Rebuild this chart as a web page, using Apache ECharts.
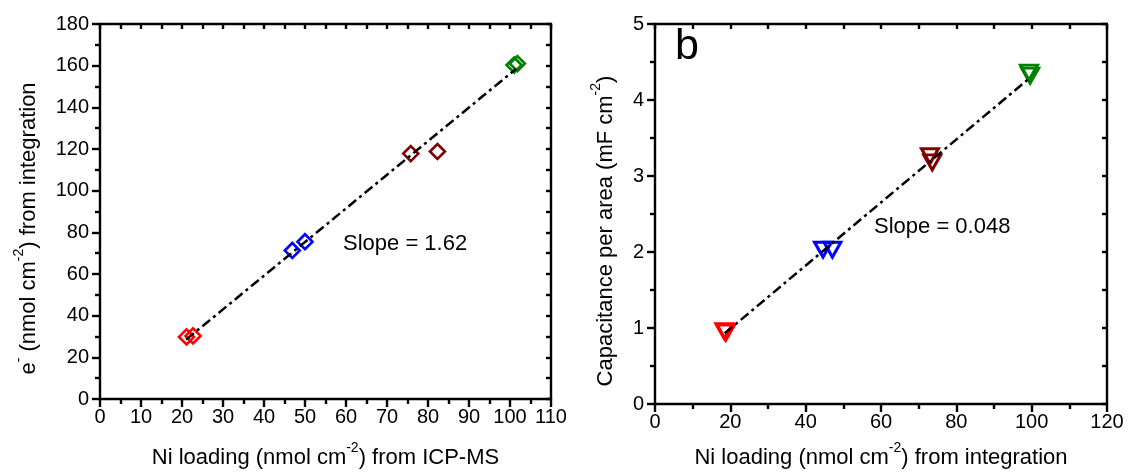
<!DOCTYPE html>
<html>
<head>
<meta charset="utf-8">
<script src="https://cdn.jsdelivr.net/npm/echarts@6/dist/echarts.min.js"></script>
<style>
html,body{margin:0;padding:0;background:#fff;}
#c{width:1128px;height:474px;}
</style>
</head>
<body>
<div id="c"></div>
<script>
// ---- Data ----
const groupColors = ['#ff0000', '#ff0000', '#0000ff', '#0000ff', '#800000', '#800000', '#008000', '#008000'];

// Panel a: e- from integration vs Ni loading from ICP-MS
const leftX = [21.1, 22.7, 46.9, 50.0, 75.8, 82.3, 101.0, 101.8];
const leftY = [29.8, 30.3, 71.3, 75.5, 117.8, 118.8, 160.3, 161.0];
const fitLeftX = [21.0, 101.5];
const fitLeftY = [28.5, 158.5];

// Panel b: capacitance per area vs Ni loading from integration
const rightX = [18.4, 18.8, 44.6, 47.1, 73.0, 73.6, 99.3, 99.6];
const rightY = [0.96, 0.94, 2.03, 2.03, 3.26, 3.18, 4.36, 4.32];
const fitRightX = [18.5, 99.5];
const fitRightY = [0.93, 4.29];

const leftXTicks = {min: 0, max: 110, interval: 10};
const leftYTicks = {min: 0, max: 180, interval: 20};
const rightXTicks = {min: 0, max: 120, interval: 20};
const rightYTicks = {min: 0, max: 5, interval: 1};

const texts = {
  slopeA: 'Slope = 1.62',
  slopeB: 'Slope = 0.048',
  panelB: 'b'
};

// ---- Build ----
const FONT = '"Liberation Sans", Arial, sans-serif';
const black = '#000';

function pts(xs, ys, colors) {
  return xs.map((x, i) => {
    const d = {value: [x, ys[i]]};
    if (colors) d.itemStyle = {borderColor: colors[i], color: 'rgba(255,255,255,0)', opacity: 1};
    return d;
  });
}

function mainAxis(grid, pos, ticks, name, nameGap, namePad) {
  return {
    gridIndex: grid, type: 'value', position: pos,
    min: ticks.min, max: ticks.max, interval: ticks.interval,
    axisLine: {show: true, onZero: false, lineStyle: {color: black, width: 2.4}},
    axisTick: {show: true, inside: false, length: 8, lineStyle: {color: black, width: 2.4}},
    minorTick: {show: true, splitNumber: 2, length: 5, lineStyle: {color: black, width: 2.4}},
    splitLine: {show: false}, minorSplitLine: {show: false},
    axisLabel: {show: true, fontSize: 20, color: black, fontFamily: FONT, margin: (pos === 'bottom' ? 8 : 11)},
    name: name, nameLocation: 'middle', nameGap: nameGap,
    nameTextStyle: {
      fontSize: 22, color: black, fontFamily: FONT, padding: namePad || 0,
      rich: {
        n: {fontSize: 22, fontFamily: FONT, color: black, lineHeight: 28, verticalAlign: 'bottom'},
        s: {fontSize: 14, fontFamily: FONT, color: black, lineHeight: 28, verticalAlign: 'top'}
      }
    }
  };
}
function mirrorAxis(grid, pos, ticks) {
  return {
    gridIndex: grid, type: 'value', position: pos,
    min: ticks.min, max: ticks.max, interval: ticks.interval,
    axisLine: {show: true, onZero: false, lineStyle: {color: black, width: 2.4}},
    axisTick: {show: true, inside: true, length: 5, lineStyle: {color: black, width: 2.4}},
    minorTick: {show: true, splitNumber: 2, length: 5, lineStyle: {color: black, width: 2.4}},
    splitLine: {show: false}, minorSplitLine: {show: false},
    axisLabel: {show: false}
  };
}

const option = {
  animation: false,
  backgroundColor: '#fff',
  textStyle: {fontFamily: FONT},
  grid: [
    {left: 100, top: 24, width: 451, height: 382},
    {left: 655, top: 24, width: 452, height: 382}
  ],
  xAxis: [
    mainAxis(0, 'bottom', leftXTicks, '{n|Ni loading (nmol cm}{s|-2}{n|) from ICP-MS}', 42),
    mirrorAxis(0, 'top', leftXTicks),
    mainAxis(1, 'bottom', rightXTicks, '{n|Ni loading (nmol cm}{s|-2}{n|) from integration}', 37),
    mirrorAxis(1, 'top', rightXTicks)
  ],
  yAxis: [
    mainAxis(0, 'left', leftYTicks, '{n|e}{s|-}{n| (nmol cm}{s|-2}{n|) from integration}', 60, [0, 34, 0, 0]),
    mirrorAxis(0, 'right', leftYTicks),
    mainAxis(1, 'left', rightYTicks, '{n|Capacitance per area (mF cm}{s|-2}{n|)}', 38, [0, 34, 0, 0]),
    mirrorAxis(1, 'right', rightYTicks)
  ],
  series: [
    {
      type: 'scatter', xAxisIndex: 0, yAxisIndex: 0,
      symbol: 'diamond', symbolSize: [15, 15],
      itemStyle: {borderWidth: 2.6, opacity: 1},
      data: pts(leftX, leftY, groupColors), z: 3
    },
    {
      type: 'line', xAxisIndex: 0, yAxisIndex: 0, showSymbol: false, symbol: 'none',
      lineStyle: {color: black, width: 2.5, type: [10, 4, 3, 4]},
      data: pts(fitLeftX, fitLeftY), z: 4
    },
    {
      type: 'scatter', xAxisIndex: 2, yAxisIndex: 2,
      symbol: 'triangle', symbolRotate: 180, symbolSize: [17, 15],
      itemStyle: {borderWidth: 3, opacity: 1},
      data: pts(rightX, rightY, groupColors), z: 3
    },
    {
      type: 'line', xAxisIndex: 2, yAxisIndex: 2, showSymbol: false, symbol: 'none',
      lineStyle: {color: black, width: 2.5, type: [10, 4, 3, 4]},
      data: pts(fitRightX, fitRightY), z: 4
    }
  ],
  graphic: [
    {type: 'text', left: 343, top: 233, style: {text: texts.slopeA, font: '22px ' + FONT, fill: black}},
    {type: 'text', left: 874, top: 216, style: {text: texts.slopeB, font: '22px ' + FONT, fill: black}},
    {type: 'text', left: 675, top: 26, style: {text: texts.panelB, font: '43px ' + FONT, fill: black}}
  ]
};

const chart = echarts.init(document.getElementById('c'), null, {renderer: 'canvas'});
chart.setOption(option);
</script>
</body>
</html>
